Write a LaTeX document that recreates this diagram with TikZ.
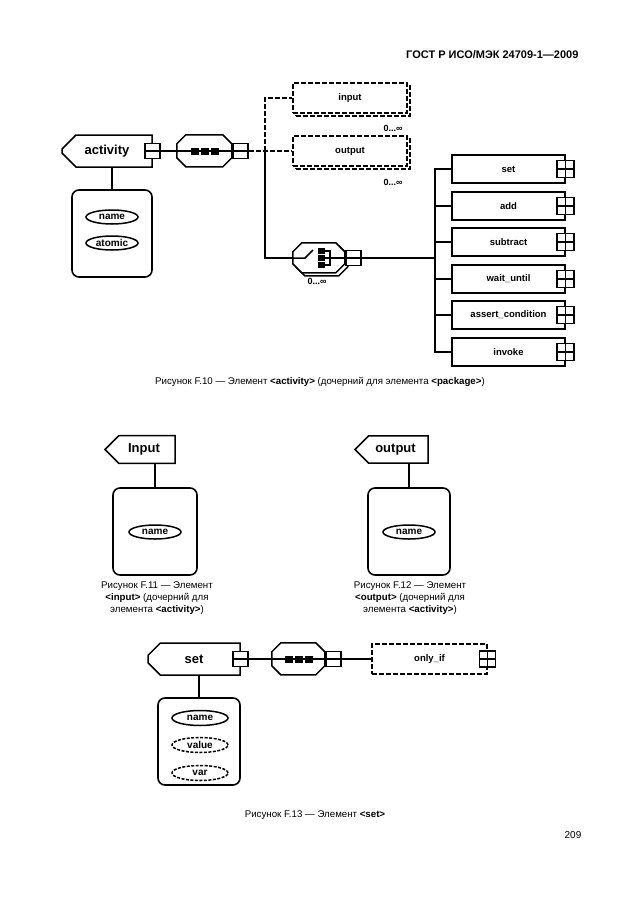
\documentclass[tikz,border=0pt]{standalone}
\usepackage{fontspec}
\setmainfont{Liberation Sans}
\usetikzlibrary{calc,shapes.geometric,shapes.misc,shadows}

\tikzset{
	ln/.style={line width=1.5pt},
	dashln/.style={line width=1.2pt, dash pattern=on 5pt off 2pt},
	octline/.style={line width=1.5pt, fill=white},
	tabnode/.style={chamfered rectangle, chamfered rectangle corners={north west,south west},
		chamfered rectangle xsep=6pt, chamfered rectangle ysep=8pt, draw, ln, fill=white,
		inner sep=0pt, font=\bfseries\fontsize{13}{15}\selectfont},
	compnode/.style={rectangle, inner sep=0pt},
	elnode/.style={rectangle, draw, ln, fill=white, minimum width=113pt, minimum height=28pt,
		inner sep=0pt, font=\bfseries\fontsize{9.5}{11}\selectfont},
	optnode/.style={elnode, dashln},
	manynode/.style={optnode, copy shadow={shadow xshift=3pt, shadow yshift=-3pt, fill=white, draw=black, dashln}},
	signbox/.style={rectangle, draw, line width=1.6pt, fill=white, minimum size=15pt, inner sep=0pt},
	minusbox/.style={signbox, path picture={\draw[line width=1.3pt] (path picture bounding box.west) -- (path picture bounding box.east);}},
	plusbox/.style={signbox, minimum size=17pt, path picture={\draw[line width=1.3pt] (path picture bounding box.west) -- (path picture bounding box.east) (path picture bounding box.north) -- (path picture bounding box.south);}},
	attrbox/.style={rectangle, draw, line width=1.6pt, rounded corners=7pt, minimum width=82pt, minimum height=87pt},
	attr/.style={ellipse, draw, ln, minimum width=52pt, minimum height=14pt, inner sep=0pt, font=\bfseries\fontsize{10}{12}\selectfont},
	optattr/.style={attr, dash pattern=on 3pt off 1.5pt},
	mult/.style={font=\bfseries\fontsize{9}{11}\selectfont},
	caption/.style={font=\fontsize{9.7}{12}\selectfont, align=center},
}

\begin{document}
\begin{tikzpicture}[x=1pt,y=-1pt]
	\path[fill=white,use as bounding box] (0,0) rectangle (630,913);
	
	\node[font=\bfseries\fontsize{11}{13}\selectfont, anchor=east] (head) at (582,55) {ГОСТ Р ИСО/МЭК 24709-1—2009};
	
	% F.10 activity
	\node[tabnode, minimum width=90pt, minimum height=32pt] (act) at (107,151) {activity};
	\node[minusbox] (actm) at (act.east) {};
	\node[compnode, minimum width=55pt, minimum height=32pt] (seqA) at (204.5,151) {};
	\draw[octline] (seqA.north west) ++(9,0) -- ++(37,0) -- ++(9,9) -- ++(0,14) -- ++(-9,9) -- ++(-37,0) -- ++(-9,-9) -- ++(0,-14) -- cycle;
	\node[minusbox, anchor=west] (seqAm) at (seqA.east) {};
	\draw[ln] (actm) -- (seqA);
	\draw[ln] (seqA.west) -- (seqA.east);
	\foreach \dx in {-10,0,10}
		\fill ($(seqA)+(\dx-4,-3.5)$) rectangle +(8,7);
	
	\node[attrbox, minimum width=80pt] (actbox) at (112,233.5) {};
	\node[attr] (actname) at (112,217) {name};
	\node[attr] (actatomic) at (112,243) {atomic};
	\draw[ln] (actbox.north) -- (actbox.north |- act.south);
	
	\node[manynode, minimum height=30pt, minimum width=114pt] (input) at (350,98) {input};
	\node[manynode, minimum height=30pt, minimum width=114pt] (output) at (350,151) {output};
	\node[mult] (inmult) at (393,128) {0...∞};
	\node[mult] (outmult) at (393,182) {0...∞};
	
	\node[compnode, minimum width=52pt, minimum height=30pt] (choice) at (319,258) {};
	\draw[octline] ($(choice.north west)+(12,3)$) -- ++(34,0) -- ++(9,9) -- ++(0,12) -- ++(-9,9) -- ++(-34,0) -- ++(-9,-9) -- ++(0,-12) -- cycle;
	\draw[octline] (choice.north west) ++(9,0) -- ++(34,0) -- ++(9,9) -- ++(0,12) -- ++(-9,9) -- ++(-34,0) -- ++(-9,-9) -- ++(0,-12) -- cycle;
	\node[minusbox, anchor=west] (choicem) at (choice.east) {};
	\node[mult] (chmult) at (317,281) {0...∞};
	\draw[ln] (choice.west) -- ($(choice)+(-14,0)$) -- ($(choice)+(-6,-8)$);
	\foreach \dy in {-7,0,7}
		\fill ($(choice)+(-1,\dy-3)$) rectangle +(7,6);
	\draw[ln] ($(choice)+(6,-7)$) -- ($(choice)+(11,-7)$) -- ($(choice)+(11,7)$) -- ($(choice)+(6,7)$);
	\draw[ln] ($(choice)+(6,0)$) -- (choice.east);
	
	\coordinate (trunkA) at (265,151);
	\draw[dashln] (seqAm) -- (output);
	\draw[dashln] (trunkA) |- (input);
	\draw[ln] (trunkA) |- (choice);
	
	\coordinate (trunkB) at (435,258);
	\draw[ln] (choicem) -- (trunkB);
	\foreach \lbl [count=\i] in {set,add,subtract,wait\_until,assert\_condition,invoke} {
		\node[elnode] (kid\i) at (508.5,{round(169+36.6*(\i-1))}) {\lbl};
		\node[plusbox] (kidp\i) at (kid\i.east) {};
		\draw[ln] (trunkB) |- (kid\i);
	}
	
	\node[caption] (capA) at (320,382) {Рисунок F.10 — Элемент \textbf{<activity>} (дочерний для элемента \textbf{<package>})};
	
	% F.11 input
	\node[tabnode, minimum width=70pt, minimum height=25pt] (intab) at (140,449.5) {\hspace*{8pt}Input};
	\node[attrbox, minimum width=84pt] (inbox) at (155,531.5) {};
	\node[attr] (inname) at (155,532) {name};
	\draw[ln] (inbox.north) -- (inbox.north |- intab.south);
	\node[caption] (capB) at (157,598) {Рисунок F.11 — Элемент\\\textbf{<input>} (дочерний для\\элемента \textbf{<activity>})};
	
	% F.12 output
	\node[tabnode, minimum width=73pt, minimum height=25pt] (outtab) at (391.5,449.5) {\hspace*{8pt}output};
	\node[attrbox] (outbox) at (409,531.5) {};
	\node[attr] (outname) at (409,532) {name};
	\draw[ln] (outbox.north) -- (outbox.north |- outtab.south);
	\node[caption] (capC) at (410,598) {Рисунок F.12 — Элемент\\\textbf{<output>} (дочерний для\\элемента \textbf{<activity>})};
	
	% F.13 set
	\node[tabnode, minimum width=92pt, minimum height=32pt] (settab) at (194,659) {set};
	\node[minusbox] (setm) at (settab.east) {};
	\node[compnode, minimum width=53pt, minimum height=32pt] (seqB) at (298.5,659) {};
	\draw[octline] (seqB.north west) ++(9,0) -- ++(35,0) -- ++(9,9) -- ++(0,14) -- ++(-9,9) -- ++(-35,0) -- ++(-9,-9) -- ++(0,-14) -- cycle;
	\node[minusbox, anchor=west] (seqBm) at (seqB.east) {};
	\draw[ln] (setm) -- (seqB);
	\draw[ln] (seqB.west) -- (seqB.east);
	\foreach \dx in {-10,0,10}
		\fill ($(seqB)+(\dx-4,-3.5)$) rectangle +(8,7);
	\node[optnode, minimum width=115pt, minimum height=30pt] (onlyif) at (429.5,659) {only\_if};
	\node[plusbox, minimum size=16pt] (onlyifp) at (onlyif.east) {};
	\draw[ln] (seqBm) -- (onlyif);
	
	\node[attrbox] (setbox) at (199,741.5) {};
	\node[attr, minimum width=56pt, minimum height=15pt] (setname) at (200,718) {name};
	\node[optattr, minimum width=56pt, minimum height=15pt] (setvalue) at (200,745) {value};
	\node[optattr, minimum width=56pt, minimum height=15pt] (setvar) at (200,773) {var};
	\draw[ln] (setbox.north) -- (setbox.north |- settab.south);
	
	\node[caption] (capD) at (315,815) {Рисунок F.13 — Элемент \textbf{<set>}};
	
	\node[font=\fontsize{10}{12}\selectfont] (page) at (573,835) {209};
\end{tikzpicture}
\end{document}
